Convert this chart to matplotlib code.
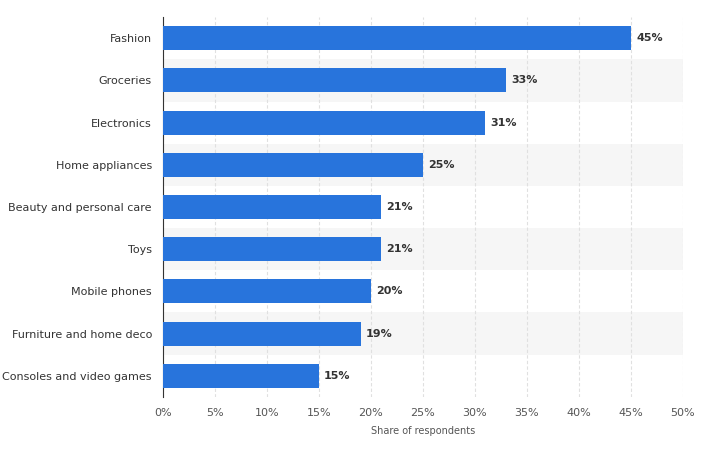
import matplotlib
matplotlib.use("Agg")
import matplotlib.pyplot as plt

categories = ["Fashion", "Groceries", "Electronics", "Home appliances",
              "Beauty and personal care", "Toys", "Mobile phones",
              "Furniture and home deco", "Consoles and video games"]
shares = [45, 33, 31, 25, 21, 21, 20, 19, 15]
xticks = list(range(0, 51, 5))

fig = plt.figure(figsize=(7.16, 4.51), dpi=100)
ax = fig.add_axes([0.2277, 0.120, 0.726, 0.842])
n = len(categories)
ypos = list(range(n))
for i in ypos:
    if i % 2 == 1:
        ax.axhspan(i - 0.5, i + 0.5, color="#f6f6f6", zorder=0, lw=0)
ax.barh(ypos, shares, height=0.57, color="#2874dc", zorder=3)
for y, v in zip(ypos, shares):
    ax.text(v + 0.5, y, f"{v}%", va="center", ha="left", fontsize=8,
            fontweight="bold", color="#333333", zorder=4)
ax.set_ylim(n - 0.5, -0.5)
ax.set_xlim(0, 50)
ax.set_yticks(ypos)
ax.set_yticklabels(categories, fontsize=8, color="#333333")
ax.set_xticks(xticks)
ax.set_xticklabels([f"{t}%" for t in xticks], fontsize=8, color="#555555")
ax.set_xlabel("Share of respondents", fontsize=7, color="#555555", labelpad=6)
ax.xaxis.grid(True, color="#e0e0e0", linestyle=(0, (3, 2)), lw=0.8, zorder=1)
for s in ["top", "right", "bottom"]:
    ax.spines[s].set_visible(False)
ax.spines["left"].set_color("#333333")
ax.tick_params(length=0, pad=8)
fig.savefig("out.png", dpi=100)
